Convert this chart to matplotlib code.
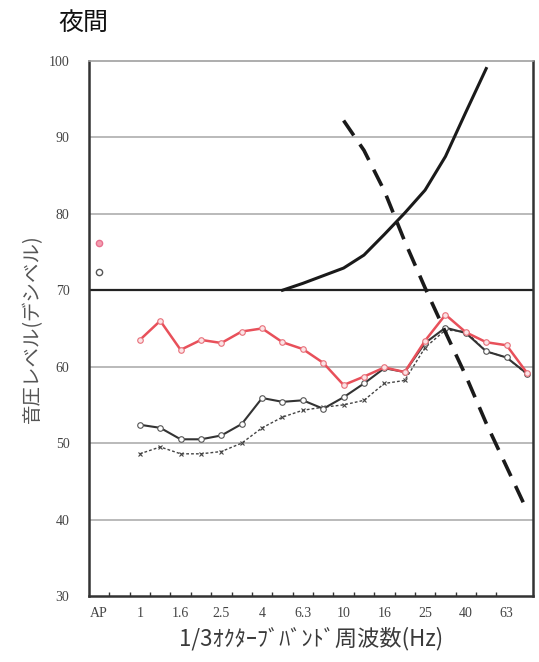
import matplotlib.pyplot as plt

plt.rcParams['font.family'] = ['Noto Sans CJK JP', 'DejaVu Sans']

# 1/3 octave band centre frequencies (Hz)
bands = ['1', '1.25', '1.6', '2', '2.5', '3.15', '4', '5', '6.3', '8',
         '10', '12.5', '16', '20', '25', '31.5', '40', '50', '63', '80']
tick_labels = ['AP', '1', '1.6', '2.5', '4', '6.3', '10', '16', '25', '40', '63']

# measured levels (dB)
red_vals = [63.5, 66.0, 62.2, 63.5, 63.1, 64.6, 65.0, 63.2, 62.3, 60.5,
            57.6, 58.7, 59.9, 59.3, 63.4, 66.8, 64.5, 63.2, 62.8, 59.2]
black_vals = [52.4, 52.0, 50.5, 50.5, 51.0, 52.5, 55.9, 55.4, 55.6, 54.5,
              56.0, 57.8, 59.8, 59.3, 63.1, 65.1, 64.4, 62.0, 61.2, 59.1]
dotted_vals = [48.6, 49.5, 48.6, 48.6, 48.9, 50.0, 52.0, 53.4, 54.3, 54.7,
               55.0, 55.6, 57.8, 58.2, 62.5, 64.8, 64.6, 62.0, 61.2, 59.0]
red_ap = 76.2
black_ap = 72.4

# reference curves
solid_bands = ['5', '6.3', '8', '10', '12.5', '16', '20', '25', '31.5', '40', '50']
solid_vals = [70.0, 70.9, 71.9, 72.9, 74.6, 77.3, 80.1, 83.1, 87.5, 93.3, 99.0]
dashed_bands = ['10', '12.5', '16', '20', '25', '31.5', '40', '50', '63', '80']
dashed_vals = [92.2, 88.3, 83.0, 76.4, 70.3, 64.5, 58.8, 52.6, 46.9, 41.2]

# category positions: AP, blank, then the bands
pos = {b: i + 2 for i, b in enumerate(bands)}
xb = [pos[b] for b in bands]

fig = plt.figure(figsize=(5.39, 6.62), dpi=100)
ax = fig.add_axes([0.165, 0.0997, 0.824, 0.8083])

for y in [40, 50, 60, 80, 90]:
    ax.axhline(y, color='#b4b4b4', lw=1.3, zorder=1)
ax.axhline(70, color='#222222', lw=1.6, zorder=1)

ax.plot(xb, dotted_vals, color='#444444', lw=1.0, ls=(0, (2, 1.5)),
        marker='x', ms=3, mew=0.8, zorder=3)
ax.plot(xb, black_vals, color='#333333', lw=1.5, marker='o', ms=4,
        mfc='white', mec='#555555', mew=0.8, zorder=4)
ax.plot(xb, red_vals, color='#e8505a', lw=1.8, marker='o', ms=4,
        mfc='#fbe3e5', mec='#e8707a', mew=0.8, zorder=5)
ax.plot([0], [red_ap], ls='none', marker='o', ms=4.5, mfc='#f4a0b0',
        mec='#e87090', zorder=5)
ax.plot([0], [black_ap], ls='none', marker='o', ms=4.5, mfc='white',
        mec='#555555', zorder=5)

ax.plot([pos[b] for b in solid_bands], solid_vals, color='#1a1a1a', lw=2.2,
        zorder=6)
ax.plot([pos[b] for b in dashed_bands], dashed_vals, color='#1a1a1a', lw=2.6,
        ls=(0, (5, 3)), zorder=6)

ax.set_xlim(-0.5, 21.3)
ax.set_ylim(30, 100)
ax.set_yticks([30, 40, 50, 60, 70, 80, 90, 100])
ax.set_xticks([0] + [pos[b] for b in tick_labels[1:]])
ax.set_xticklabels(tick_labels)
ax.set_xticks([i + 0.5 for i in range(20)], minor=True)
ax.tick_params(axis='x', which='minor', direction='in', length=3, width=1,
               color='#333333')
ax.tick_params(axis='x', which='major', length=0, pad=8)
ax.tick_params(axis='y', length=0, pad=14)
for lab in ax.get_xticklabels() + ax.get_yticklabels():
    lab.set_family(['Liberation Serif', 'DejaVu Serif'])
    lab.set_fontsize(10)
    lab.set_color('#444444')

for side in ['left', 'bottom', 'right']:
    ax.spines[side].set_color('#333333')
    ax.spines[side].set_linewidth(1.8)
ax.spines['top'].set_color('#a0a0a0')
ax.spines['top'].set_linewidth(1.2)

ax.set_ylabel('音圧レベル(デシベル)', fontsize=14, color='#555555', labelpad=4)
ax.set_xlabel('1/3ｵｸﾀｰﾌﾞﾊﾞﾝﾄﾞ周波数(Hz)', fontsize=16, color='#3a3a3a',
              labelpad=5)
fig.text(0.108, 0.966, '夜間', fontsize=18, color='#111111', va='center')

fig.savefig('out.png', dpi=100)
